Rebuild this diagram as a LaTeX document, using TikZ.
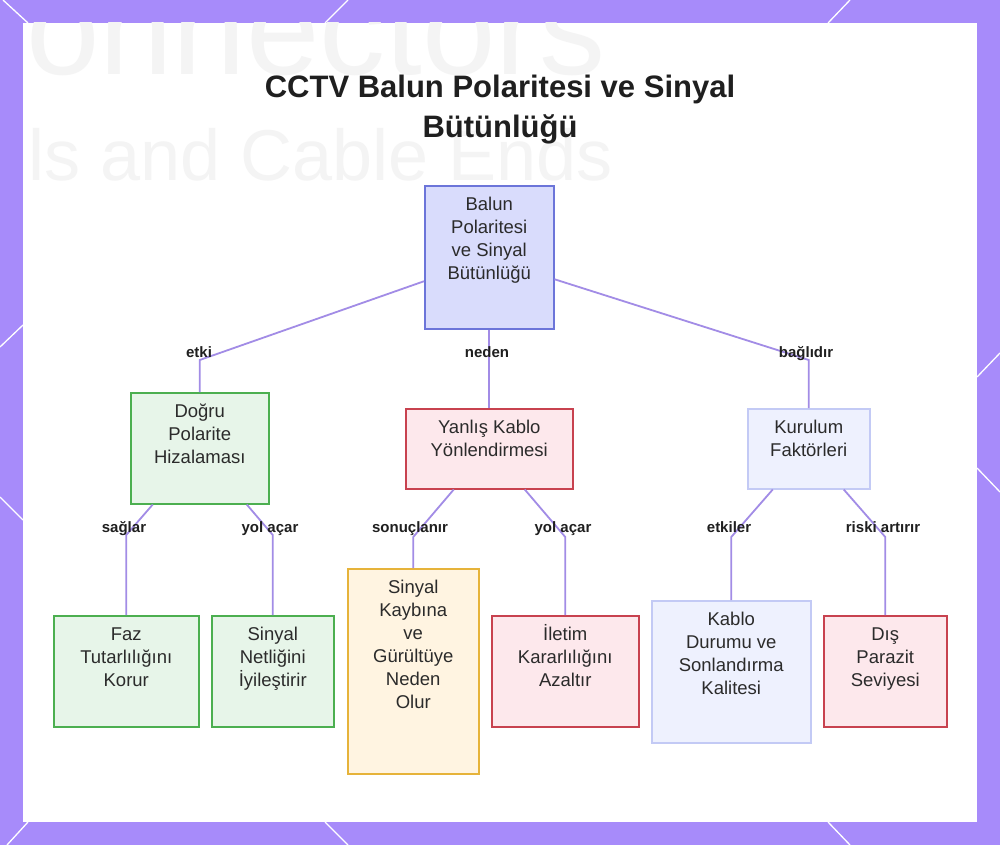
\documentclass[tikz,border=0pt]{standalone}
\usepackage{fontspec}
\setmainfont{Liberation Sans}
\usetikzlibrary{calc}
\definecolor{framec}{HTML}{A78BFA}
\definecolor{edgec}{HTML}{A28CE6}
\definecolor{rootfill}{HTML}{D9DCFC}
\definecolor{rootdraw}{HTML}{6C75D9}
\definecolor{greenfill}{HTML}{E7F5E9}
\definecolor{greendraw}{HTML}{4CAF50}
\definecolor{pinkfill}{HTML}{FDE8EC}
\definecolor{pinkdraw}{HTML}{C8424F}
\definecolor{lavfill}{HTML}{EEF1FE}
\definecolor{lavdraw}{HTML}{C3CAF5}
\definecolor{orfill}{HTML}{FFF4E1}
\definecolor{ordraw}{HTML}{E6B33A}
\definecolor{txt}{HTML}{2B2B2B}
\definecolor{wmc}{HTML}{F4F4F4}
\newcommand{\btext}[3]{\parbox[c][#2][t]{#1}{\centering\rule{0pt}{24.6pt}#3}}
\tikzset{
  box/.style={draw, line width=1.5pt, inner sep=0pt, anchor=north west, text=txt,
    font=\fontsize{18.5}{23}\selectfont},
  rootbox/.style={box, fill=rootfill, draw=rootdraw},
  greenbox/.style={box, fill=greenfill, draw=greendraw},
  pinkbox/.style={box, fill=pinkfill, draw=pinkdraw},
  lavbox/.style={box, fill=lavfill, draw=lavdraw},
  orbox/.style={box, fill=orfill, draw=ordraw},
  edge/.style={draw=edgec, line width=1.8pt},
  lbl/.style={text=black!88, font=\bfseries\fontsize{15}{18}\selectfont, inner sep=0pt, anchor=base},
  deco/.style={white, line width=1.3pt}
}
\begin{document}
\begin{tikzpicture}[x=1pt,y=-1pt]
\useasboundingbox (0,0) rectangle (1000,845);
\fill[framec] (0,0) rectangle (1000,845);
\fill[white] (23,23) rectangle (977,822);
% decorative lines on the frame
\draw[deco] (3,0) -- (28,23);
\draw[deco] (348,0) -- (325,23);
\draw[deco] (850,0) -- (828,23);
\draw[deco] (23,325) -- (0,347);
\draw[deco] (0,497) -- (23,520);
\draw[deco] (977,377) -- (1000,353);
\draw[deco] (977,468) -- (1000,492);
\draw[deco] (7,845) -- (28,822);
\draw[deco] (325,822) -- (348,845);
\draw[deco] (828,822) -- (850,845);
% faint background text
\begin{scope}
\clip (23,23) rectangle (977,822);
\node[anchor=base west, text=wmc, inner sep=0pt, font=\fontsize{132}{132}\selectfont] (wm1) at (26,75) {onnectors};
\node[anchor=base west, text=wmc, inner sep=0pt, font=\fontsize{72}{72}\selectfont] (wm2) at (28,180) {ls and Cable Ends};
\end{scope}
% title
\node[align=center, text=black!88, font=\bfseries\fontsize{31}{40}\selectfont, inner sep=0pt] (title) at (500,110) {CCTV Balun Polaritesi ve Sinyal\\Bütünlüğü};
% nodes
\node[rootbox] (root) at (424,185) {\btext{129pt}{143pt}{Balun\\Polaritesi\\ve Sinyal\\Bütünlüğü}};
\node[greenbox] (dogru) at (130,392) {\btext{138pt}{111pt}{Doğru\\Polarite\\Hizalaması}};
\node[pinkbox] (yanlis) at (405,408) {\btext{167pt}{80pt}{Yanlış Kablo\\Yönlendirmesi}};
\node[lavbox] (kurulum) at (747,408) {\btext{122pt}{80pt}{Kurulum\\Faktörleri}};
\node[greenbox] (faz) at (53,615) {\btext{145pt}{111pt}{Faz\\Tutarlılığını\\Korur}};
\node[greenbox] (netlik) at (211,615) {\btext{122pt}{111pt}{Sinyal\\Netliğini\\İyileştirir}};
\node[orbox] (kayip) at (347,568) {\btext{131pt}{205pt}{Sinyal\\Kaybına\\ve\\Gürültüye\\Neden\\Olur}};
\node[pinkbox] (iletim) at (491,615) {\btext{147pt}{111pt}{İletim\\Kararlılığını\\Azaltır}};
\node[lavbox] (kablo) at (651,600) {\btext{159pt}{142pt}{Kablo\\Durumu ve\\Sonlandırma\\Kalitesi}};
\node[pinkbox] (dis) at (823,615) {\btext{123pt}{111pt}{Dış\\Parazit\\Seviyesi}};
% connectors
\draw[edge] ([yshift=-24pt]root.west) -- (dogru.north |- 0,360) -- (dogru.north);
\draw[edge] (root.south) -- (yanlis.north);
\draw[edge] ([yshift=-22pt]root.east) -- (kurulum.north |- 0,360) -- (kurulum.north);
\draw[edge] ([xshift=-47pt]dogru.south) -- (faz.north |- 0,535) -- (faz.north);
\draw[edge] ([xshift=47pt]dogru.south) -- (netlik.north |- 0,535) -- (netlik.north);
\draw[edge] ([xshift=-35.5pt]yanlis.south) -- (kayip.north |- 0,537) -- (kayip.north);
\draw[edge] ([xshift=35.5pt]yanlis.south) -- (iletim.north |- 0,537) -- (iletim.north);
\draw[edge] ([xshift=-36pt]kurulum.south) -- (kablo.north |- 0,537) -- (kablo.north);
\draw[edge] ([xshift=35pt]kurulum.south) -- (dis.north |- 0,537) -- (dis.north);
% labels
\node[lbl] (l1) at (199,357.5) {etki};
\node[lbl] (l2) at (487,357.5) {neden};
\node[lbl] (l3) at (806,357.5) {bağlıdır};
\node[lbl] (l4) at (124,532.5) {sağlar};
\node[lbl] (l5) at (270,532.5) {yol açar};
\node[lbl] (l6) at (410,532.5) {sonuçlanır};
\node[lbl] (l7) at (563,532.5) {yol açar};
\node[lbl] (l8) at (729,532.5) {etkiler};
\node[lbl] (l9) at (883,532.5) {riski artırır};
\end{tikzpicture}
\end{document}
